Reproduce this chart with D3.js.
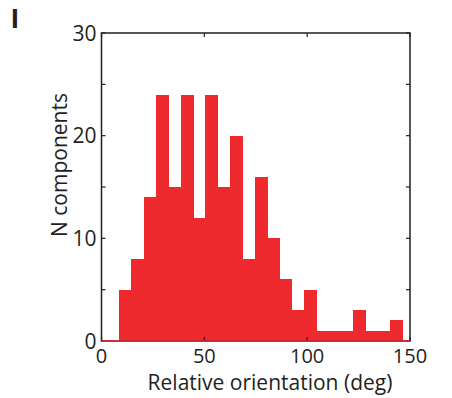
<!DOCTYPE html>
<html><head><meta charset="utf-8">
<script src="https://cdn.jsdelivr.net/npm/d3@7"></script>
<style>
html,body{margin:0;padding:0;background:#fff;}
text{font-family:"Open Sans","Noto Sans",sans-serif;fill:#231f20;}
</style></head>
<body><svg id="c" width="452" height="398"></svg>
<script>
const binStarts = [8.5,14.5,20.5,26.5,32.5,38.5,44.5,50.5,56.5,62.5,68.5,74.5,80.5,86.5,92.5,98.5,104.5,110.5,116.5,122.5,128.5,134.5,140.5];
const binWidth = 6;
const counts = [5,8,14,24,15,24,12,24,15,20,8,16,10,6,3,5,1,1,1,3,1,1,2];
const xTicks = [0,50,100,150];
const yTicks = [0,5,10,15,20,25,30];
const yLabels = [0,10,20,30];
const barColor = "#ee2a2e";

const svg = d3.select("#c");
const x = d3.scaleLinear().domain([0,150]).range([101.5,410]);
const y = d3.scaleLinear().domain([0,30]).range([341,33]);
const axisColor = "#231f20";
const fs = 21;

// bars
svg.append("g").attr("shape-rendering","crispEdges").selectAll("rect").data(counts).join("rect")
  .attr("x",(d,i)=>x(binStarts[i]))
  .attr("width",(d,i)=>x(binStarts[i]+binWidth)-x(binStarts[i])+0.5)
  .attr("y",d=>y(d))
  .attr("height",d=>y(0)-y(d))
  .attr("fill",barColor);

// frame
svg.append("rect").attr("x",x(0)).attr("y",y(30)).attr("width",x(150)-x(0)).attr("height",y(0)-y(30))
  .attr("fill","none").attr("stroke",axisColor).attr("stroke-width",1.5);

// ticks inward
const tl = 4;
const g = svg.append("g").attr("stroke",axisColor).attr("stroke-width",1.2);
xTicks.forEach(t=>{
  g.append("line").attr("x1",x(t)).attr("x2",x(t)).attr("y1",y(30)).attr("y2",y(30)+tl);
  g.append("line").attr("x1",x(t)).attr("x2",x(t)).attr("y1",y(0)).attr("y2",y(0)-tl);
});
yTicks.forEach(t=>{
  g.append("line").attr("x1",x(0)).attr("x2",x(0)+tl).attr("y1",y(t)).attr("y2",y(t));
  g.append("line").attr("x1",x(150)).attr("x2",x(150)-tl).attr("y1",y(t)).attr("y2",y(t));
});

// red baseline
svg.append("line").attr("x1",x(0)).attr("x2",x(150)).attr("y1",y(0)).attr("y2",y(0))
  .attr("stroke",barColor).attr("stroke-width",1.5);

// labels
svg.append("g").selectAll("text").data(yLabels).join("text")
  .attr("x",x(0)-5).attr("y",d=>y(d)).attr("dy","0.36em")
  .attr("text-anchor","end").attr("font-size",fs).text(d=>d);
svg.append("g").selectAll("text").data(xTicks).join("text")
  .attr("x",d=>x(d)).attr("y",363)
  .attr("text-anchor","middle").attr("font-size",20).text(d=>d);

svg.append("text").attr("x",270).attr("y",390).attr("text-anchor","middle")
  .attr("font-size",fs).text("Relative orientation (deg)");
svg.append("text").attr("transform","translate(67,165) rotate(-90)").attr("text-anchor","middle")
  .attr("font-size",fs).text("N components");

svg.append("text").attr("x",11).attr("y",28).attr("font-size",28).attr("font-weight","bold")
  .style("font-family","'Liberation Sans',Arial,sans-serif").text("I");
</script></body></html>
